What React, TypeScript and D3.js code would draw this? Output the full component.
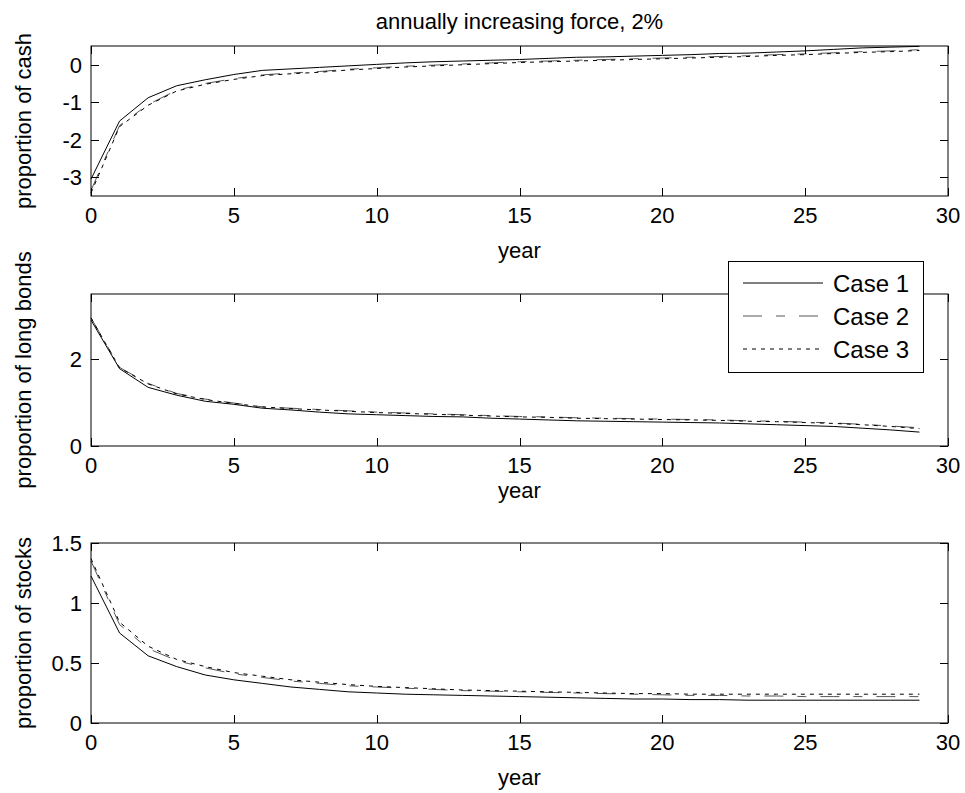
import React, { useEffect, useRef } from 'react';
import * as d3 from 'd3';

const years = [0, 1, 2, 3, 4, 5, 6, 7, 8, 9, 10, 11, 12, 13, 14, 15, 16, 17, 18, 19, 20, 21, 22, 23, 24, 25, 26, 27, 28, 29];
const xTicks = [0, 5, 10, 15, 20, 25, 30];
const caseNames = ['Case 1', 'Case 2', 'Case 3'];

const cashCase1 = [-3.05, -1.5, -0.88, -0.56, -0.4, -0.26, -0.15, -0.11, -0.07, -0.03, 0.01, 0.05, 0.08, 0.1, 0.12, 0.14, 0.17, 0.2, 0.21, 0.23, 0.25, 0.27, 0.3, 0.31, 0.34, 0.37, 0.41, 0.45, 0.47, 0.49];
const cashCase2 = [-3.35, -1.62, -1.06, -0.68, -0.5, -0.37, -0.27, -0.22, -0.18, -0.12, -0.08, -0.04, -0.01, 0.02, 0.05, 0.08, 0.1, 0.12, 0.14, 0.16, 0.18, 0.2, 0.22, 0.24, 0.27, 0.29, 0.32, 0.35, 0.37, 0.4];
const cashCase3 = [-3.42, -1.65, -1.08, -0.7, -0.52, -0.39, -0.29, -0.24, -0.2, -0.14, -0.1, -0.06, -0.03, 0.0, 0.03, 0.06, 0.08, 0.1, 0.12, 0.14, 0.16, 0.18, 0.2, 0.22, 0.25, 0.27, 0.3, 0.33, 0.35, 0.38];

const bondsCase1 = [2.9, 1.78, 1.35, 1.17, 1.03, 0.96, 0.87, 0.83, 0.78, 0.74, 0.72, 0.7, 0.68, 0.67, 0.64, 0.62, 0.6, 0.58, 0.57, 0.56, 0.55, 0.54, 0.53, 0.51, 0.49, 0.47, 0.45, 0.41, 0.37, 0.32];
const bondsCase2 = [2.95, 1.81, 1.44, 1.21, 1.08, 0.99, 0.9, 0.87, 0.84, 0.81, 0.78, 0.76, 0.74, 0.72, 0.7, 0.68, 0.67, 0.65, 0.64, 0.63, 0.62, 0.61, 0.6, 0.58, 0.57, 0.55, 0.53, 0.5, 0.46, 0.42];
const bondsCase3 = [2.95, 1.8, 1.43, 1.2, 1.07, 0.98, 0.9, 0.86, 0.83, 0.8, 0.77, 0.75, 0.73, 0.71, 0.69, 0.67, 0.66, 0.64, 0.63, 0.62, 0.61, 0.6, 0.59, 0.57, 0.56, 0.54, 0.52, 0.49, 0.45, 0.4];

const stocksCase1 = [1.225, 0.75, 0.56, 0.47, 0.4, 0.36, 0.33, 0.3, 0.28, 0.26, 0.25, 0.24, 0.235, 0.23, 0.225, 0.22, 0.215, 0.21, 0.205, 0.2, 0.2, 0.195, 0.195, 0.19, 0.19, 0.19, 0.19, 0.19, 0.19, 0.19];
const stocksCase2 = [1.35, 0.82, 0.62, 0.52, 0.46, 0.41, 0.38, 0.35, 0.33, 0.31, 0.3, 0.29, 0.28, 0.27, 0.265, 0.26, 0.255, 0.25, 0.245, 0.24, 0.235, 0.23, 0.23, 0.225, 0.225, 0.22, 0.22, 0.22, 0.22, 0.22];
const stocksCase3 = [1.37, 0.84, 0.64, 0.53, 0.47, 0.42, 0.39, 0.36, 0.34, 0.32, 0.305, 0.295, 0.285, 0.275, 0.27, 0.265, 0.26, 0.255, 0.25, 0.245, 0.245, 0.24, 0.24, 0.24, 0.24, 0.24, 0.24, 0.24, 0.24, 0.24];

const FONT = "'Liberation Sans', Arial, sans-serif";
const STROKES = ['#000', '#555', '#000'];
const DASHES = [null, '19,14,9,14', '4,5'];

const panels = [
  { top: 46, bottom: 196, domain: [-3.5, 0.5], yTicks: [-3, -2, -1, 0], ylabel: 'proportion of cash', series: [cashCase1, cashCase2, cashCase3], xlabelY: 250 },
  { top: 294, bottom: 446, domain: [0, 3.5], yTicks: [0, 2], ylabel: 'proportion of long bonds', series: [bondsCase1, bondsCase2, bondsCase3], xlabelY: 490 },
  { top: 543, bottom: 723, domain: [0, 1.5], yTicks: [0, 0.5, 1, 1.5], ylabel: 'proportion of stocks', series: [stocksCase1, stocksCase2, stocksCase3], xlabelY: 777 },
];

function App() {
  const svgRef = useRef(null);

  useEffect(() => {
    const svg = d3.select(svgRef.current);
    svg.selectAll('*').remove();

    const left = 91;
    const right = 948;
    const tickLen = 8;
    const x = d3.scaleLinear().domain([0, 30]).range([left, right]);

    svg.append('rect').attr('width', 965).attr('height', 793).attr('fill', '#fff');

    svg.append('text')
      .attr('x', (left + right) / 2)
      .attr('y', 29)
      .attr('text-anchor', 'middle')
      .attr('font-family', FONT)
      .attr('font-size', 22)
      .text('annually increasing force, 2%');

    panels.forEach(p => {
      const y = d3.scaleLinear().domain(p.domain).range([p.bottom, p.top]);
      const g = svg.append('g');

      // data lines
      p.series.forEach((vals, i) => {
        const line = d3.line()
          .x((d, j) => x(years[j]))
          .y(d => y(d));
        g.append('path')
          .datum(vals)
          .attr('d', line)
          .attr('fill', 'none')
          .attr('stroke', STROKES[i])
          .attr('stroke-width', 1)
          .attr('stroke-dasharray', DASHES[i]);
      });

      // box
      g.append('rect')
        .attr('x', left)
        .attr('y', p.top)
        .attr('width', right - left)
        .attr('height', p.bottom - p.top)
        .attr('fill', 'none')
        .attr('stroke', '#000')
        .attr('stroke-width', 1);

      // x ticks (inward, bottom and top)
      xTicks.forEach(t => {
        const xx = Math.round(x(t)) + 0.5;
        g.append('line').attr('x1', xx).attr('x2', xx).attr('y1', p.bottom).attr('y2', p.bottom - tickLen).attr('stroke', '#000');
        g.append('line').attr('x1', xx).attr('x2', xx).attr('y1', p.top).attr('y2', p.top + tickLen).attr('stroke', '#000');
        g.append('text')
          .attr('x', x(t))
          .attr('y', p.bottom + 27)
          .attr('text-anchor', 'middle')
          .attr('font-family', FONT)
          .attr('font-size', 22)
          .text(t);
      });

      // y ticks (inward, left and right)
      p.yTicks.forEach(t => {
        const yy = Math.round(y(t)) + 0.5;
        g.append('line').attr('x1', left).attr('x2', left + tickLen).attr('y1', yy).attr('y2', yy).attr('stroke', '#000');
        g.append('line').attr('x1', right).attr('x2', right - tickLen).attr('y1', yy).attr('y2', yy).attr('stroke', '#000');
        g.append('text')
          .attr('x', left - 9)
          .attr('y', y(t))
          .attr('dy', '0.36em')
          .attr('text-anchor', 'end')
          .attr('font-family', FONT)
          .attr('font-size', 22)
          .text(String(t));
      });

      g.append('text')
        .attr('x', (left + right) / 2)
        .attr('y', p.xlabelY)
        .attr('dy', '0.36em')
        .attr('text-anchor', 'middle')
        .attr('font-family', FONT)
        .attr('font-size', 22)
        .text('year');

      g.append('text')
        .attr('transform', `translate(31, ${(p.top + p.bottom) / 2}) rotate(-90)`)
        .attr('text-anchor', 'middle')
        .attr('font-family', FONT)
        .attr('font-size', 22)
        .text(p.ylabel);
    });

    // legend
    const lg = svg.append('g');
    lg.append('rect')
      .attr('x', 728.5)
      .attr('y', 261.5)
      .attr('width', 195)
      .attr('height', 111)
      .attr('fill', '#fff')
      .attr('stroke', '#000');
    caseNames.forEach((name, i) => {
      const ly = 283 + i * 33;
      lg.append('line')
        .attr('x1', 743).attr('x2', 823)
        .attr('y1', ly).attr('y2', ly)
        .attr('stroke', STROKES[i])
        .attr('stroke-dasharray', DASHES[i]);
      lg.append('text')
        .attr('x', 833)
        .attr('y', ly)
        .attr('dy', '0.36em')
        .attr('font-family', FONT)
        .attr('font-size', 24)
        .text(name);
    });
  }, []);

  return (
    <svg ref={svgRef} width={965} height={793} style={{ position: 'absolute', left: 0, top: 0, display: 'block' }} />
  );
}

export default App;
